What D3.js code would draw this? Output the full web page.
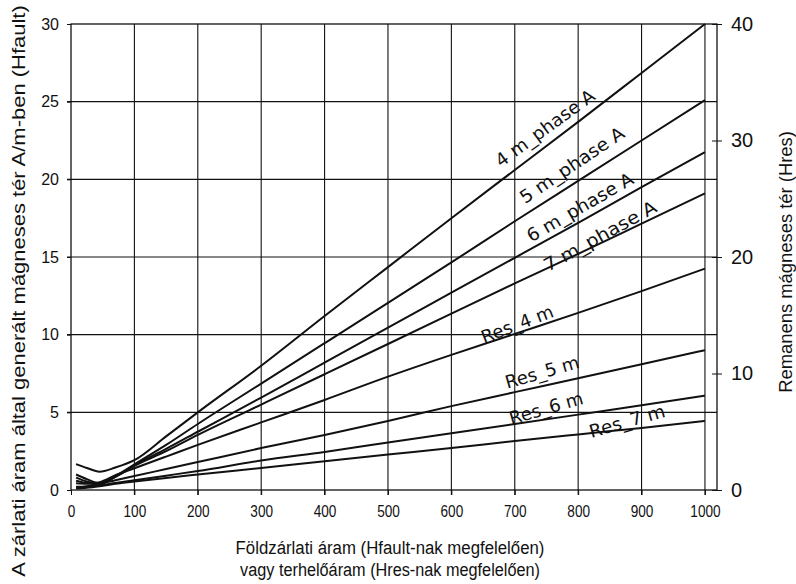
<!DOCTYPE html>
<html>
<head>
<meta charset="utf-8">
<script src="https://cdn.jsdelivr.net/npm/d3@7"></script>
<style>
  html, body { margin: 0; padding: 0; background: #fff; }
  svg { display: block; }
</style>
</head>
<body>
<svg id="chart" width="796" height="584"></svg>
<script>
// ---------------- DATA ----------------
const xValues = [8, 25, 45, 70, 100, 150, 200, 300, 400, 500, 600, 700, 800, 900, 1000];

// Hfault curves (left axis, A/m)
const phase4m = [1.67, 1.42, 1.18, 1.45, 1.92, 3.45, 5.0, 8.0, 11.2, 14.35, 17.5, 20.6, 23.7, 26.85, 30.0];
const phase5m = [1.0, 0.7, 0.45, 0.9, 1.65, 2.9, 4.25, 6.85, 9.45, 12.05, 14.65, 17.3, 19.9, 22.5, 25.1];
const phase6m = [0.8, 0.55, 0.4, 0.85, 1.6, 2.65, 3.75, 5.95, 8.2, 10.45, 12.7, 14.95, 17.2, 19.5, 21.75];
const phase7m = [0.6, 0.45, 0.38, 0.85, 1.55, 2.5, 3.55, 5.5, 7.45, 9.4, 11.35, 13.3, 15.2, 17.15, 19.1];

// Hres curves (right axis)
const res4m = [0.57, 0.53, 0.67, 1.27, 1.87, 2.87, 3.87, 5.8, 7.73, 9.73, 11.6, 13.4, 15.2, 17.07, 19.0];
const res5m = [0.27, 0.33, 0.53, 0.83, 1.2, 1.8, 2.4, 3.6, 4.73, 5.93, 7.2, 8.4, 9.6, 10.8, 12.0];
const res6m = [0.2, 0.27, 0.4, 0.6, 0.83, 1.23, 1.63, 2.53, 3.27, 4.07, 4.87, 5.67, 6.47, 7.27, 8.1];
const res7m = [0.13, 0.2, 0.33, 0.53, 0.73, 1.04, 1.33, 1.89, 2.47, 3.04, 3.6, 4.2, 4.77, 5.33, 5.92];

const seriesNames = ["4 m_phase A", "5 m_phase A", "6 m_phase A", "7 m_phase A", "Res_4 m", "Res_5 m", "Res_6 m", "Res_7 m"];

const xTicks = [0, 100, 200, 300, 400, 500, 600, 700, 800, 900, 1000];
const yLeftTicks = [0, 5, 10, 15, 20, 25, 30];
const yRightTicks = [0, 10, 20, 30, 40];

const xTitle1 = "Földzárlati áram (Hfault-nak megfelelően)";
const xTitle2 = "vagy terhelőáram (Hres-nak megfelelően)";
const yLeftTitle = "A zárlati áram által generált mágneses tér A/m-ben (Hfault)";
const yRightTitle = "Remanens mágneses tér (Hres)";

// ---------------- LAYOUT ----------------
const L = 71, R = 717, T = 24, B = 490;
const svg = d3.select("#chart");

const x = d3.scaleLinear().domain([0, 1019]).range([L, R]);
const yL = d3.scaleLinear().domain([0, 30]).range([B, T]);
const yR = d3.scaleLinear().domain([0, 40]).range([B, T]);

const ink = "#111";
const numFont = "'Liberation Sans', Arial, Helvetica, sans-serif";
const lblFont = "'DejaVu Sans', Verdana, sans-serif";

// gridlines
const grid = svg.append("g");
grid.selectAll("line.v").data(xTicks.slice(1)).join("line")
  .attr("x1", d => x(d)).attr("x2", d => x(d))
  .attr("y1", T).attr("y2", B + 5)
  .attr("stroke", ink).attr("stroke-width", 1.1);
grid.selectAll("line.h").data(yLeftTicks.slice(1, -1)).join("line")
  .attr("x1", L - 4).attr("x2", R)
  .attr("y1", d => yL(d)).attr("y2", d => yL(d))
  .attr("stroke", ink).attr("stroke-width", 1.1);

// frame
svg.append("rect").attr("x", L).attr("y", T).attr("width", R - L).attr("height", B - T)
  .attr("fill", "none").attr("stroke", ink).attr("stroke-width", 1.3);

// left axis
const axL = svg.append("g").attr("transform", `translate(${L},0)`)
  .call(d3.axisLeft(yL).tickValues(yLeftTicks).tickSize(4).tickPadding(8));
axL.select(".domain").remove();
axL.selectAll("line").attr("stroke", ink);
axL.selectAll("text").attr("font-family", numFont).attr("font-size", 16).attr("fill", ink);

// bottom axis
const axB = svg.append("g").attr("transform", `translate(0,${B})`)
  .call(d3.axisBottom(x).tickValues(xTicks).tickFormat(d3.format("d")).tickSize(5).tickPadding(10));
axB.select(".domain").remove();
axB.selectAll("line").attr("stroke", ink);
axB.selectAll("text").attr("font-family", numFont).attr("font-size", 17).attr("fill", ink)
  .attr("transform", "scale(0.8,1)");

// right axis
const axR = svg.append("g").attr("transform", `translate(${R},0)`)
  .call(d3.axisRight(yR).tickValues(yRightTicks).tickSize(5).tickPadding(9));
axR.select(".domain").remove();
axR.selectAll("line").attr("stroke", ink).attr("x1", -5);
axR.selectAll("text").attr("font-family", numFont).attr("font-size", 20).attr("fill", ink);

// curves
const lineL = d3.line().x((d, i) => x(xValues[i])).y(d => yL(d)).curve(d3.curveMonotoneX);
const lineR = d3.line().x((d, i) => x(xValues[i])).y(d => yR(d)).curve(d3.curveMonotoneX);
const leftSeries = [phase4m, phase5m, phase6m, phase7m];
const rightSeries = [res4m, res5m, res6m, res7m];
svg.append("g").selectAll("path").data(leftSeries).join("path")
  .attr("d", lineL).attr("fill", "none").attr("stroke", ink).attr("stroke-width", 2);
svg.append("g").selectAll("path").data(rightSeries).join("path")
  .attr("d", lineR).attr("fill", "none").attr("stroke", ink).attr("stroke-width", 2);

// helper: text fitted to a target length with rotation
function placeText(str, cx, cy, angle, targetLen, size, family) {
  const t = svg.append("text").text(str)
    .attr("font-family", family).attr("font-size", size).attr("fill", ink)
    .attr("text-anchor", "middle").attr("dominant-baseline", "central");
  const w = t.node().getComputedTextLength();
  const s = targetLen / w;
  t.attr("transform", `translate(${cx},${cy}) rotate(${-angle}) scale(${s},1)`);
  return t;
}

// curve labels
const labelPos = [
  [545, 128, 36, 118],
  [572, 165, 34, 122],
  [580, 207, 30, 120],
  [600, 236, 29, 126],
  [517, 324, 21, 76],
  [542, 372, 16, 76],
  [546, 408, 16, 76],
  [627, 421, 16, 78]
];
seriesNames.forEach((n, i) => {
  const p = labelPos[i];
  placeText(n, p[0], p[1], p[2], p[3], 18, lblFont);
});

// axis titles
placeText(yLeftTitle, 18, 291, 90, 572, 19, numFont);
placeText(yRightTitle, 786, 262, 90, 262, 18, numFont);
placeText(xTitle1, 390, 548, 0, 309, 19, numFont);
placeText(xTitle2, 390, 570, 0, 300, 19, numFont);
</script>
</body>
</html>
